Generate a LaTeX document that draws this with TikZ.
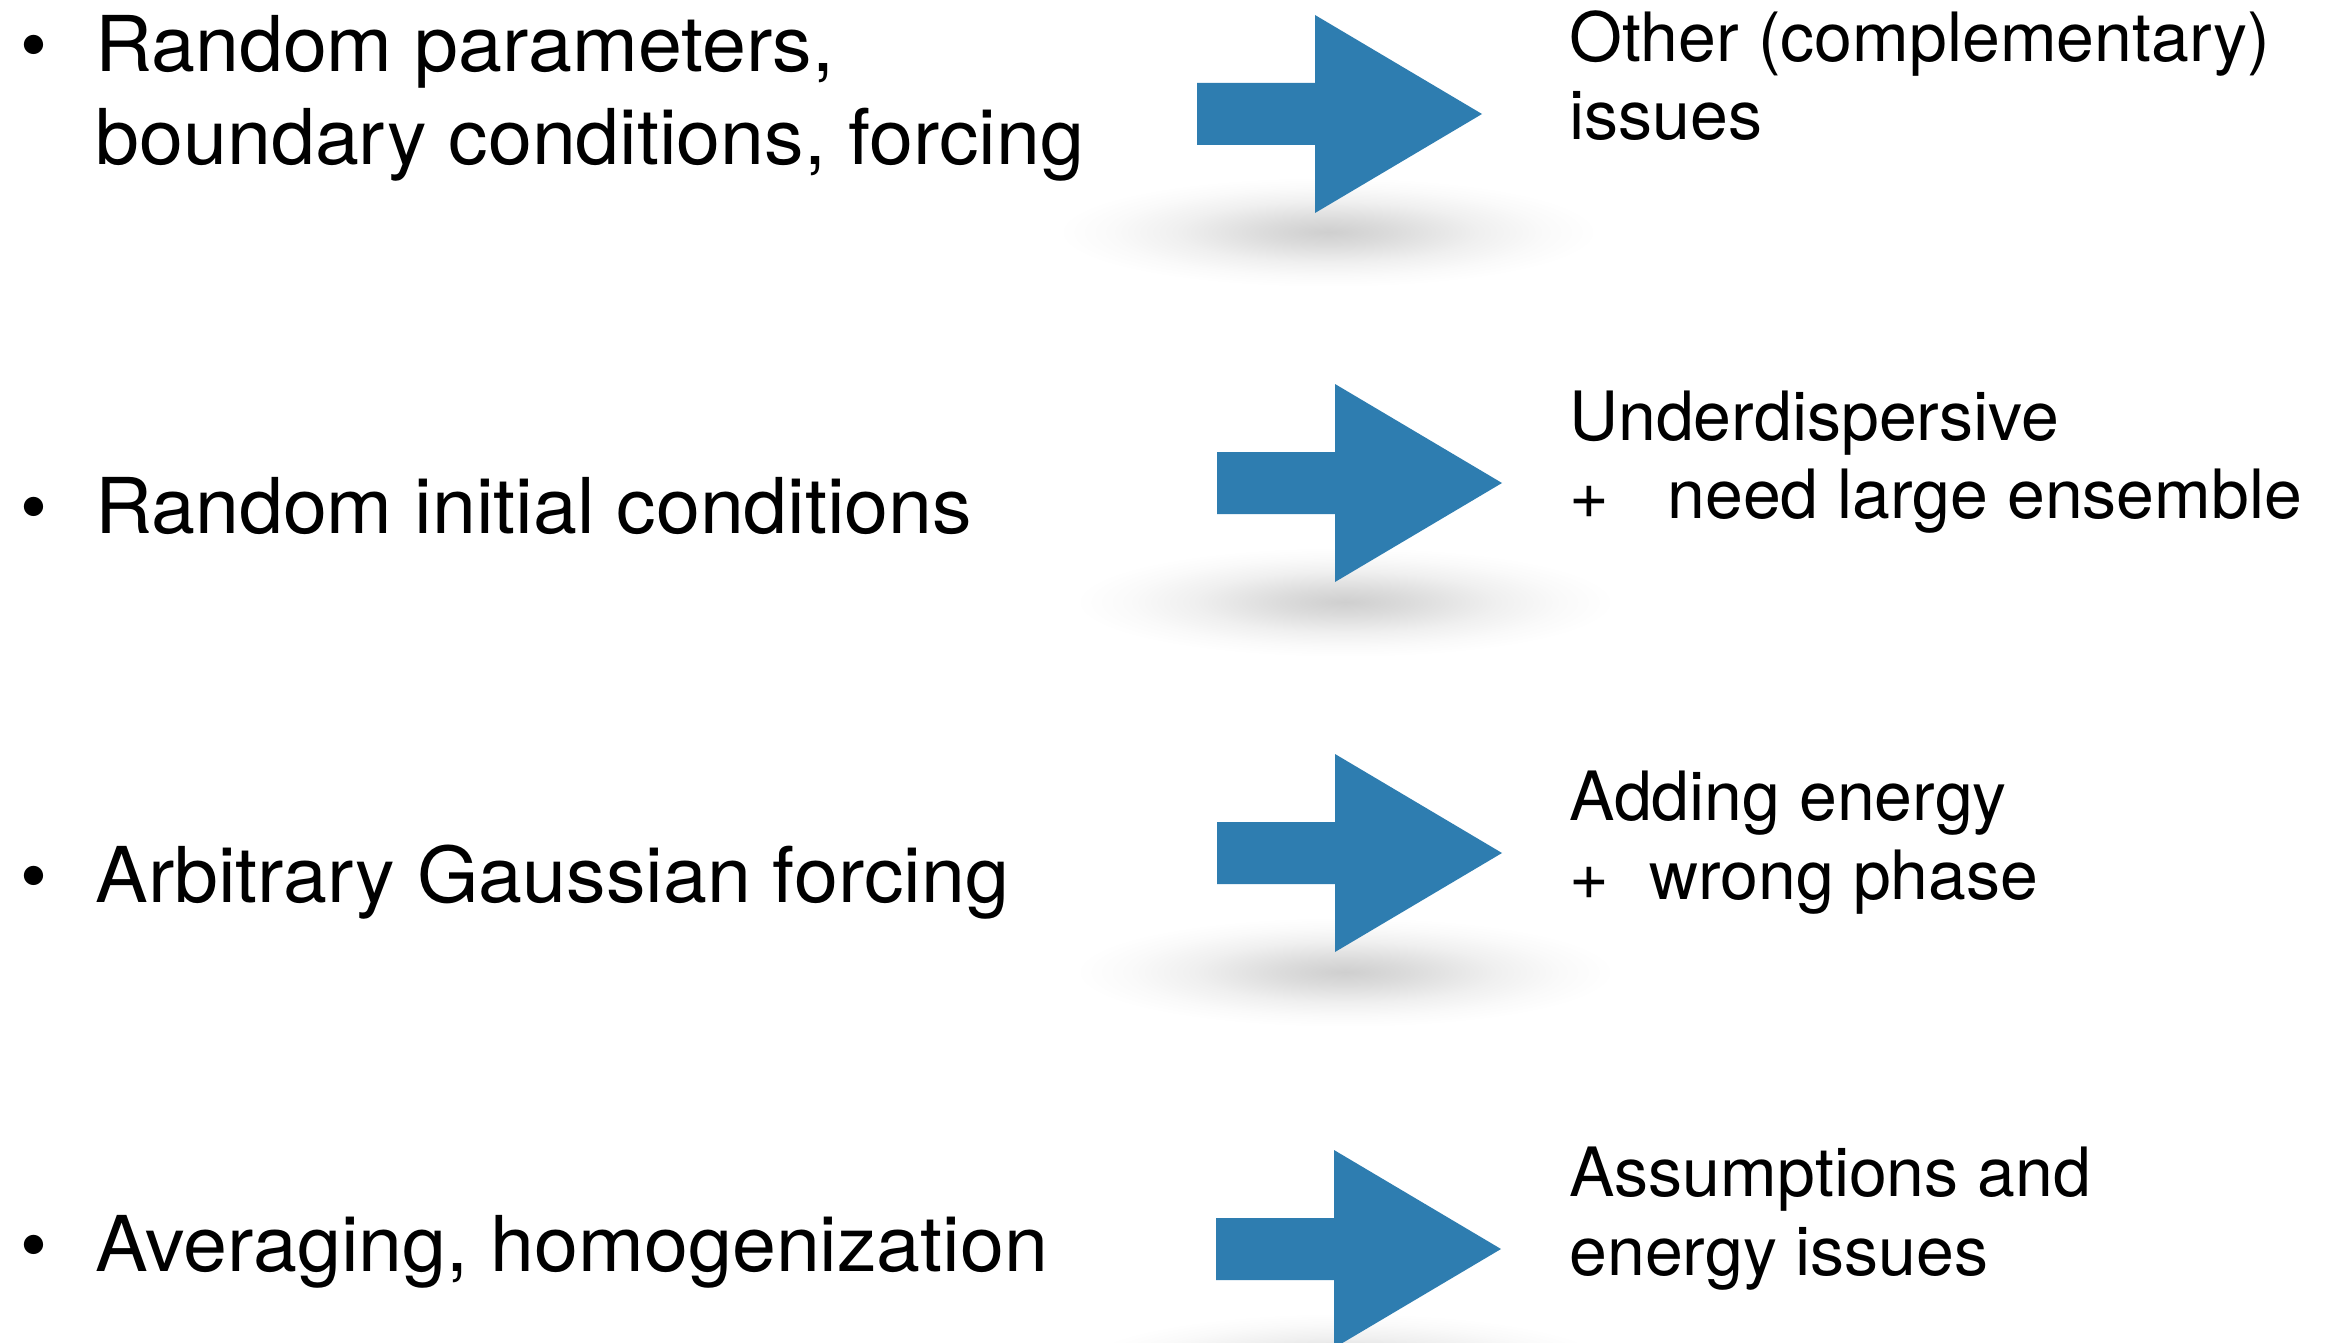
\documentclass[tikz,border=0pt]{standalone}
\usepackage{fontspec}
\setmainfont{TeX Gyre Heros}
\newfontfamily\leftfont[FakeStretch=1.026]{TeX Gyre Heros}
\definecolor{arrowblue}{RGB}{46,125,176}
\pgfdeclareradialshading{softshadow}{\pgfpoint{0bp}{0bp}}{color(0bp)=(black!19); color(6bp)=(black!14); color(14bp)=(black!6); color(20bp)=(black!2); color(25bp)=(white); color(50bp)=(white)}
\tikzset{
  lefttext/.style={anchor=base west, inner sep=0pt, font=\leftfont\fontsize{38.5}{46}\selectfont},
  righttext/.style={anchor=base west, inner sep=0pt, font=\fontsize{34}{41}\selectfont},
  bulletmark/.style={anchor=base west, inner sep=0pt, font=\fontsize{38.5}{46}\selectfont},
  shadowblob/.style={shading=softshadow},
  blockarrow/.pic={\fill[arrowblue] (0,-31) -- (118,-31) -- (118,-99) -- (285,0) -- (118,99) -- (118,31) -- (0,31) -- cycle;}
}
\begin{document}
\begin{tikzpicture}[x=0.5pt,y=-0.5pt]
\useasboundingbox (0,0) rectangle (2330,1343);
\clip (0,0) rectangle (2330,1343);
\fill[white] (0,0) rectangle (2330,1343);
% shadows
\shade[shadowblob] (1328,232) ellipse [x radius=270, y radius=55];
\shade[shadowblob] (1345,602) ellipse [x radius=270, y radius=55];
\shade[shadowblob] (1345,972) ellipse [x radius=270, y radius=55];
\shade[shadowblob] (1345,1368) ellipse [x radius=270, y radius=55];
% arrows
\pic at (1197,114) {blockarrow};
\pic at (1217,483) {blockarrow};
\pic at (1217,853) {blockarrow};
\pic at (1216,1249) {blockarrow};
% left column
\node[bulletmark] (b1) at (20,72) {•};
\node[lefttext] (l1a) at (95,72) {Random parameters,};
\node[lefttext] (l1b) at (95,164) {boundary conditions, forcing};
\node[bulletmark] (b2) at (20,533) {•};
\node[lefttext] (l2) at (95,533) {Random initial conditions};
\node[bulletmark] (b3) at (20,902) {•};
\node[lefttext] (l3) at (95,902) {Arbitrary Gaussian forcing};
\node[bulletmark] (b4) at (20,1271) {•};
\node[lefttext] (l4) at (95,1271) {Averaging, homogenization};
% right column
\node[righttext] (r1a) at (1569,62) {Other (complementary)};
\node[righttext] (r1b) at (1569,140) {issues};
\node[righttext] (r2a) at (1569,440) {Underdispersive};
\node[righttext] (r2b) at (1569,518) {\makebox[49pt][l]{+}need large ensemble};
\node[righttext] (r3a) at (1569,820) {Adding energy};
\node[righttext] (r3b) at (1569,899) {\makebox[40pt][l]{+}wrong phase};
\node[righttext] (r4a) at (1569,1196) {Assumptions and};
\node[righttext] (r4b) at (1569,1275) {energy issues};
\end{tikzpicture}
\end{document}
